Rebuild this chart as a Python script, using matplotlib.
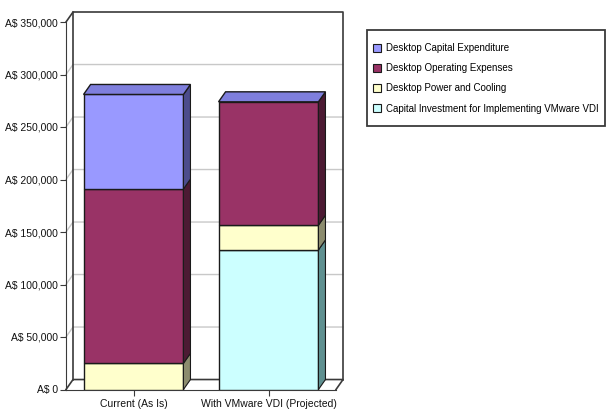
import matplotlib
matplotlib.use("Agg")
import matplotlib.pyplot as plt
from matplotlib.patches import Polygon, Patch, Rectangle

plt.rcParams['font.family'] = ['Liberation Sans', 'DejaVu Sans']

''' --------------- data --------------- '''
categories = ["Current (As Is)", "With VMware VDI (Projected)"]
series_names = ["Capital Investment for Implementing VMware VDI",
                "Desktop Power and Cooling",
                "Desktop Operating Expenses",
                "Desktop Capital Expenditure"]
investment = [0, 133000]
power = [25000, 23500]
opex = [166000, 117500]
capex = [90000, 0]
yticks = [0, 50000, 100000, 150000, 200000, 250000, 300000, 350000]

front_colors = ["#CCFFFF", "#FFFFCC", "#993366", "#9999FF"]
side_colors = ["#5F9090", "#8C8C6E", "#4C1A33", "#4C4C8C"]
top_color = "#7F7FDD"

''' --------------- figure --------------- '''
fig = plt.figure(figsize=(6.07, 4.12), dpi=100)
ax = fig.add_axes([66 / 607, 1 - 389.5 / 412, 270 / 607, 367.5 / 412])
ax.set_xlim(-0.5, 1.5)
ax.set_ylim(0, 350000)

DX = 0.052   # depth offset in x units
DY = 9500    # depth offset in value units
W = 0.74
x0, x1 = -0.5, 1.5
ytop = yticks[-1]

# back wall grid lines
for v in yticks[1:-1]:
    ax.plot([x0, x0 + DX, x1 + DX], [v, v + DY, v + DY], color="#C8C8C8", lw=1, clip_on=False, zorder=1)

# back wall frame, floor
frame = dict(color="#3A3A3A", lw=1.2, clip_on=False, zorder=2)
ax.plot([x0 + DX, x0 + DX, x1 + DX, x1 + DX], [DY, ytop + DY, ytop + DY, DY], **frame)
ax.plot([x0, x0 + DX], [ytop, ytop + DY], **frame)
ax.plot([x0, x0 + DX, x1 + DX, x1], [0, DY, DY, 0], **frame)

# bars
stack = [investment, power, opex, capex]
bottoms = [0.0, 0.0]
for vals, fc, sc in zip(stack, front_colors, side_colors):
    for i, v in enumerate(vals):
        b = bottoms[i]
        if v > 0:
            ax.bar(i, v, W, bottom=b, color=fc, edgecolor="#1A1A1A", lw=1, zorder=3)
            xr = i + W / 2
            ax.add_patch(Polygon([(xr, b), (xr + DX, b + DY), (xr + DX, b + v + DY), (xr, b + v)],
                                 closed=True, facecolor=sc, edgecolor="#1A1A1A", lw=0.8, zorder=3, clip_on=False))
        bottoms[i] = b + v

for i, t in enumerate(bottoms):
    xl, xr = i - W / 2, i + W / 2
    ax.add_patch(Polygon([(xl, t), (xl + DX, t + DY), (xr + DX, t + DY), (xr, t)],
                         closed=True, facecolor=top_color, edgecolor="#1A1A1A", lw=1, zorder=4, clip_on=False))

''' --------------- axes --------------- '''
for s in ["top", "right"]:
    ax.spines[s].set_visible(False)
ax.spines["left"].set_color("#3A3A3A")
ax.spines["bottom"].set_color("#3A3A3A")
ax.set_yticks(yticks)
ax.set_yticklabels(["A$ 0" if v == 0 else "A$ {:,}".format(v) for v in yticks])
ax.set_xticks(range(len(categories)))
ax.set_xticklabels(categories)
ax.tick_params(axis="both", length=4, color="#3A3A3A", labelsize=7.5, pad=2, labelcolor="#111111")
ax.tick_params(axis="x", pad=3)
ax.set_facecolor("none")

''' --------------- legend --------------- '''
fig.patches.append(Rectangle((367 / 607, 1 - 126 / 412), 238 / 607, 96 / 412, transform=fig.transFigure,
                             facecolor="white", edgecolor="#3A3A3A", lw=1.3, zorder=0))
handles = [Patch(facecolor=c, edgecolor="#1A1A1A", lw=0.8) for c in front_colors]
leg = fig.legend(handles[::-1], series_names[::-1], loc="upper left",
                 bbox_to_anchor=(373 / 607, 1 - 43 / 412), borderaxespad=0, borderpad=0,
                 fontsize=7, frameon=False, handlelength=0.8, handleheight=0.9,
                 handletextpad=0.55, labelspacing=1.05)

fig.savefig("out.png", dpi=100)
